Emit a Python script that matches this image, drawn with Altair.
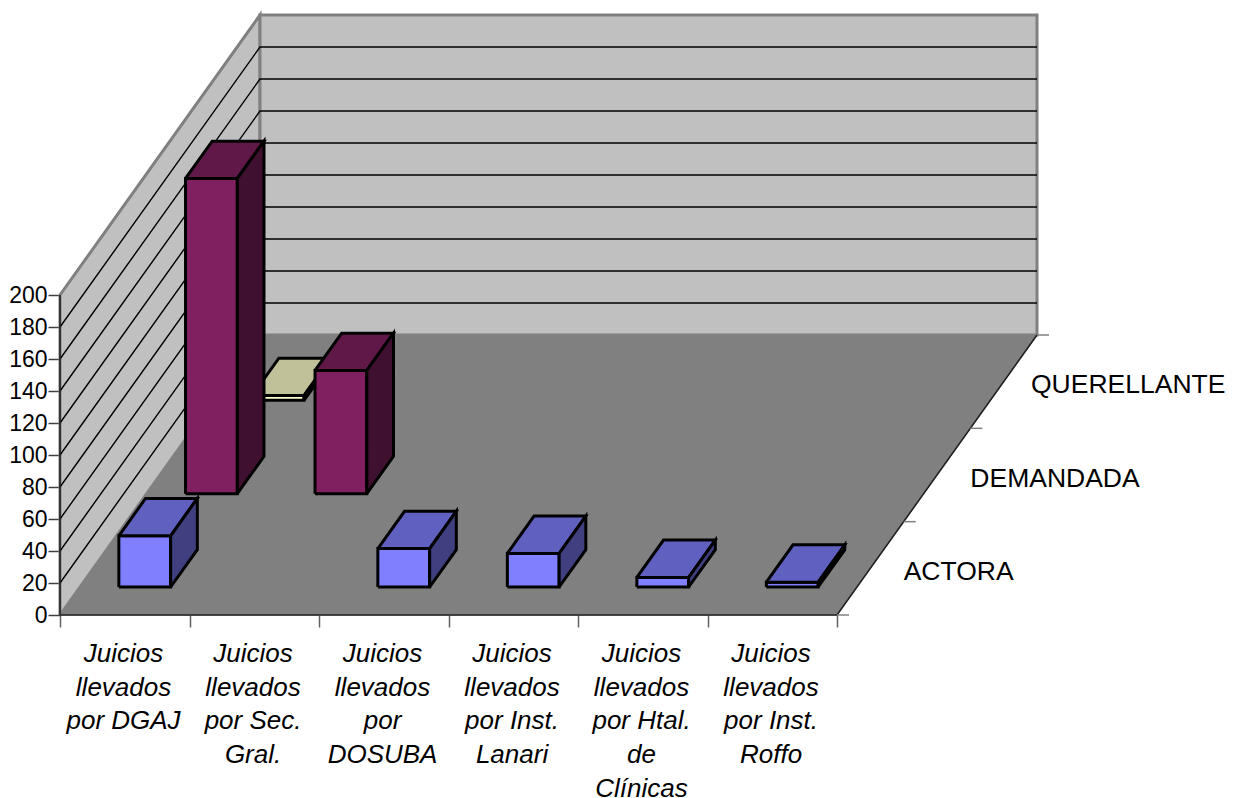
import altair as alt
import pandas as pd

categories = [
    "Juicios\nllevados\npor DGAJ",
    "Juicios\nllevados\npor Sec.\nGral.",
    "Juicios\nllevados\npor\nDOSUBA",
    "Juicios\nllevados\npor Inst.\nLanari",
    "Juicios\nllevados\npor Htal.\nde\nClínicas",
    "Juicios\nllevados\npor Inst.\nRoffo",
]
series = ["ACTORA", "DEMANDADA", "QUERELLANTE"]
series_nudge_px = [0, 0, -6]
actora = [32, 0, 24, 21, 6, 3]
demandada = [197, 77, 0, 0, 0, 0]
querellante = [3, 0, 0, 0, 0, 0]
front_colors = ["#8080FF", "#802060", "#FFFFCC"]
top_colors = ["#6060C0", "#601848", "#C0C099"]
side_colors = ["#404080", "#401030", "#808066"]
y_ticks = list(range(0, 201, 20))

FONT = "Liberation Sans"
W, H = 977, 600
PX_CAT = 129.5
PX_VAL = 1.6
DX = 66.667 / PX_CAT   # category units per depth unit
DY = 93.333 / PX_VAL   # value units per depth unit
X_MAX = W / PX_CAT
Y_MAX = H / PX_VAL
N_CAT = len(categories)
N_SER = len(series)
TOP = y_ticks[-1]


def project(c, d, v):
    return c + d * DX, v + d * DY


def polys_frame(polys):
    rows = []
    for i, (pts, fill) in enumerate(polys):
        for j, (c, d, v) in enumerate(pts):
            X, Y = project(c, d, v)
            rows.append({"id": f"p{i:03d}", "seq": j, "X": X, "Y": Y, "fill": fill})
    return pd.DataFrame(rows)


x_scale = alt.Scale(domain=[0, X_MAX], nice=False, zero=False)
y_scale = alt.Scale(domain=[0, Y_MAX], nice=False, zero=False)
x_axis = alt.Axis(
    values=list(range(N_CAT + 1)), labels=False, title=None, domain=False, grid=False,
    tickSize=12, tickColor="#606060", tickWidth=1.5)
y_axis = alt.Axis(
    values=y_ticks, title=None, domain=False, grid=False, tickSize=12,
    tickColor="#404040", tickWidth=1.5, labelFont=FONT, labelFontSize=23,
    labelColor="#000000", labelPadding=1)
x_enc = alt.X("X:Q", scale=x_scale, axis=x_axis)
y_enc = alt.Y("Y:Q", scale=y_scale, axis=y_axis)


def poly_layer(polys, stroke, width):
    kw = {"strokeWidth": width, "strokeJoin": "miter", "clip": False}
    return alt.Chart(polys_frame(polys)).mark_line(**kw).encode(
        x=x_enc, y=y_enc, detail="id:N", order="seq:Q",
        fill=alt.Fill("fill:N", scale=None),
        stroke=alt.value(stroke),
    )


def path_layer(paths, color, width):
    rows = []
    for i, pts in enumerate(paths):
        for j, (c, d, v) in enumerate(pts):
            X, Y = project(c, d, v)
            rows.append({"id": f"l{i:03d}", "seq": j, "X": X, "Y": Y})
    return alt.Chart(pd.DataFrame(rows)).mark_line(
        strokeWidth=width, color=color, clip=False, strokeJoin="miter"
    ).encode(x=x_enc, y=y_enc, detail="id:N", order="seq:Q")


# walls and floor
left_wall = [(0, 0, 0), (0, 0, TOP), (0, 3, TOP), (0, 3, 0), (0, 0, 0)]
back_wall = [(0, 3, 0), (0, 3, TOP), (N_CAT, 3, TOP), (N_CAT, 3, 0), (0, 3, 0)]
floor = [(0, 0, 0), (N_CAT, 0, 0), (N_CAT, 3, 0), (0, 3, 0), (0, 0, 0)]
walls = poly_layer([(left_wall, "#C0C0C0"), (back_wall, "#C0C0C0")], "#808080", 3)
grid = path_layer(
    [[(0, 0, v), (0, 3, v), (N_CAT, 3, v)] for v in y_ticks[1:-1]], "#000000", 1.4
)
floor_l = poly_layer([(floor, "#808080")], "#808080", 1)
edges = path_layer(
    [[(0, 0, 0), (N_CAT, 0, 0), (N_CAT, 3, 0)], [(0, 0, 0), (0, 0, TOP)]], "#202020", 1.6
)
depth_ticks = path_layer(
    [[(N_CAT, d, 0), (N_CAT + 12 / PX_CAT, d, 0)] for d in range(N_SER + 1)], "#808080", 1.5
)

# bars, from the back row to the front row
values = [actora, demandada, querellante]
faces = []
for d in reversed(range(N_SER)):
    for c in range(N_CAT):
        v = values[d][c]
        if v <= 0:
            continue
        c0, c1, d0, d1 = c + 0.3, c + 0.7, d + 0.3, d + 0.7
        faces.append(([(c0, d0, 0), (c1, d0, 0), (c1, d0, v), (c0, d0, v), (c0, d0, 0)], front_colors[d]))
        faces.append(([(c0, d0, v), (c1, d0, v), (c1, d1, v), (c0, d1, v), (c0, d0, v)], top_colors[d]))
        faces.append(([(c1, d0, 0), (c1, d1, 0), (c1, d1, v), (c1, d0, v), (c1, d0, 0)], side_colors[d]))
bars = poly_layer(faces, "#000000", 3)

# category labels
cat_df = pd.DataFrame({"X": [c + 0.5 for c in range(N_CAT)], "t": categories})
cat_text = alt.Chart(cat_df).mark_text(
    font=FONT, fontSize=26, fontStyle="italic", align="center", baseline="top",
    lineBreak="\n", lineHeight=33.7, color="#000000", dx=-1.2,
).encode(x=x_enc, y=alt.value(H + 26), text="t:N")

# series labels
ser_df = pd.DataFrame(
    [{"X": project(N_CAT, d + 1, 0)[0] + series_nudge_px[d] / PX_CAT,
      "Y": project(0, d + 0.46, 0)[1], "t": s}
     for d, s in enumerate(series)]
)
ser_text = alt.Chart(ser_df).mark_text(
    font=FONT, fontSize=26.5, align="left", baseline="middle", color="#000000",
).encode(x=x_enc, y=y_enc, text="t:N")

chart = alt.layer(
    walls, grid, floor_l, edges, depth_ticks, bars, cat_text, ser_text
).properties(
    width=W, height=H,
    padding={"left": 52, "top": 7, "right": 189, "bottom": 183},
    autosize=alt.AutoSizeParams(type="none"),
    background="#FFFFFF",
).configure_view(stroke=None)

chart.save("out.html", embed_options={"renderer": "svg", "actions": False})
